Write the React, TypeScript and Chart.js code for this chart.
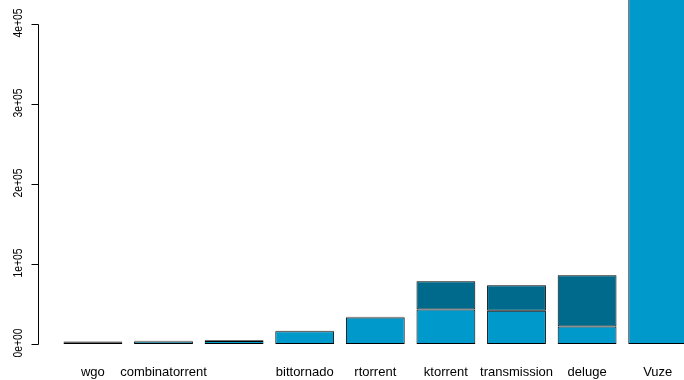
import React, { useEffect, useRef } from "react";
import { Chart, registerables } from "chart.js";

Chart.register(...registerables);

const categories = ["wgo", "combinatorrent", "", "bittornado", "rtorrent", "ktorrent", "transmission", "deluge", "Vuze"];
const lowerValues = [2200, 3000, 3800, 16000, 33000, 43000, 41500, 22000, 470000];
const upperValues = [800, 1000, 1000, 500, 1200, 35500, 32000, 64000, 30000];
const yTickValues = [0, 100000, 200000, 300000, 400000];
const yTickLabels = ["0e+00", "1e+05", "2e+05", "3e+05", "4e+05"];

const LIGHT = "#0099CC";
const DARK = "#006A8C";
const FONT = "'Liberation Sans', Arial, Helvetica, sans-serif";

const axesPlugin = {
  id: "rAxes",
  afterDraw(chart: any) {
    const ctx = chart.ctx;
    const y = chart.scales.y;
    const x = chart.scales.x;
    ctx.save();
    ctx.strokeStyle = "#000";
    ctx.lineWidth = 1;
    const ax = 38.5;
    const yTop = y.getPixelForValue(yTickValues[yTickValues.length - 1]);
    const yBot = y.getPixelForValue(yTickValues[0]);
    ctx.beginPath();
    ctx.moveTo(ax, Math.round(yTop) + 0.5);
    ctx.lineTo(ax, Math.round(yBot) + 0.5);
    yTickValues.forEach((v) => {
      const py = Math.round(y.getPixelForValue(v)) + 0.5;
      ctx.moveTo(ax, py);
      ctx.lineTo(ax - 7, py);
    });
    ctx.stroke();
    ctx.fillStyle = "#000";
    ctx.font = `13px ${FONT}`;
    ctx.textAlign = "center";
    ctx.textBaseline = "middle";
    yTickValues.forEach((v, i) => {
      const py = y.getPixelForValue(v);
      ctx.save();
      ctx.translate(18, py - 1);
      ctx.rotate(-Math.PI / 2);
      ctx.scale(0.8, 1.05);
      ctx.fillText(yTickLabels[i], 0, 0);
      ctx.restore();
    });
    ctx.font = `13px ${FONT}`;
    categories.forEach((c, i) => {
      if (!c) return;
      const px = x.getPixelForValue(i);
      ctx.fillText(c, px, 372);
    });
    ctx.restore();
  },
};

export default function App() {
  const ref = useRef<HTMLCanvasElement>(null);
  useEffect(() => {
    const canvas = ref.current!;
    const chart = new Chart(canvas, {
      type: "bar",
      data: {
        labels: categories,
        datasets: [
          {
            label: "lower",
            data: lowerValues,
            backgroundColor: LIGHT,
            borderColor: "#000",
            borderWidth: 1,
            borderSkipped: false,
          },
          {
            label: "upper",
            data: upperValues,
            backgroundColor: DARK,
            borderColor: "#000",
            borderWidth: 1,
            borderSkipped: false,
          },
        ],
      },
      options: {
        responsive: false,
        animation: false,
        layout: { padding: { left: 57.6, right: 19, top: 0, bottom: 28 } },
        plugins: { legend: { display: false }, tooltip: { enabled: false } },
        datasets: { bar: { barPercentage: 1, categoryPercentage: 1 / 1.2 } },
        scales: {
          x: { stacked: true, display: false, offset: true },
          y: { stacked: true, display: false, min: -10000, max: 430000 },
        },
      },
      plugins: [axesPlugin],
    });
    return () => chart.destroy();
  }, []);
  return (
    <div style={{ position: "fixed", left: 0, top: 0, width: 684, height: 380, overflow: "hidden", background: "#fff" }}>
      <canvas ref={ref} width={712} height={380} style={{ width: 712, height: 380, display: "block" }} />
    </div>
  );
}
